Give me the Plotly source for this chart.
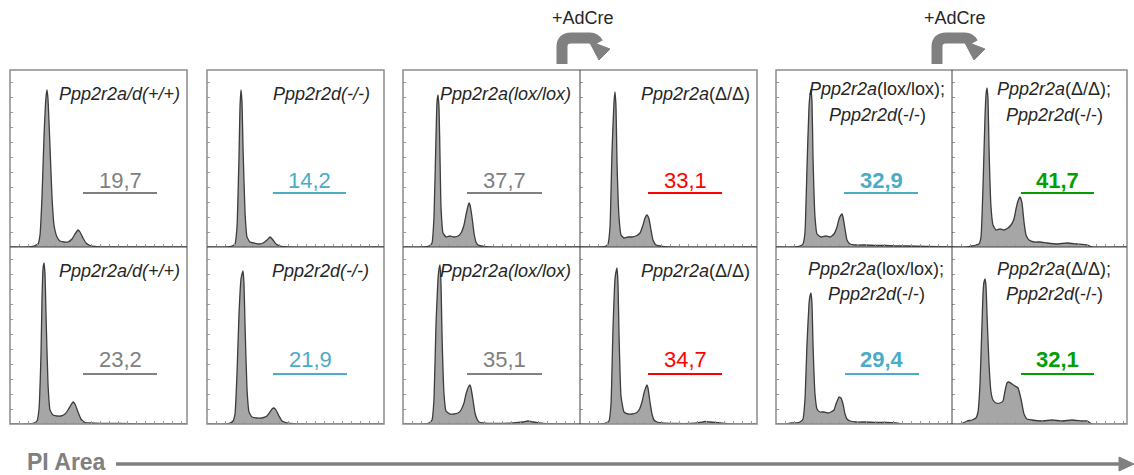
import plotly.graph_objects as go

W, H = 1134, 475

# ---------------- data ----------------
labels = [
    "<i>Ppp2r2a/d(+/+)</i>", "<i>Ppp2r2d(-/-)</i>", "<i>Ppp2r2a(lox/lox)</i>", "<i>Ppp2r2a</i>(Δ/Δ)",
    ["<i>Ppp2r2a</i>(lox/lox);", "<i>Ppp2r2d</i>(-/-)"], ["<i>Ppp2r2a</i>(Δ/Δ);", "<i>Ppp2r2d</i>(-/-)"],
    "<i>Ppp2r2a/d(+/+)</i>", "<i>Ppp2r2d(-/-)</i>", "<i>Ppp2r2a(lox/lox)</i>", "<i>Ppp2r2a</i>(Δ/Δ)",
    ["<i>Ppp2r2a</i>(lox/lox);", "<i>Ppp2r2d</i>(-/-)"], ["<i>Ppp2r2a</i>(Δ/Δ);", "<i>Ppp2r2d</i>(-/-)"],
]
values = ["19,7", "14,2", "37,7", "33,1", "32,9", "41,7",
          "23,2", "21,9", "35,1", "34,7", "29,4", "32,1"]
value_colors = ["#808080", "#4bacc6", "#808080", "#ff0000", "#4bacc6", "#00a000",
                "#808080", "#4bacc6", "#808080", "#ff0000", "#4bacc6", "#00a000"]
value_bold = [False, False, False, False, True, True,
              False, False, False, False, True, True]

# histogram curves: channel (px from panel left) and count (px above baseline)
curve_x = [
    [0, 18, 24, 28, 30, 32, 34, 36, 37, 38, 40, 42, 44, 47, 50, 54, 58, 62, 65, 68, 70, 73, 76, 80, 85, 95, 177],
    [0, 20, 25, 28, 30, 32, 33, 34, 35, 36, 38, 40, 43, 47, 52, 56, 60, 63, 66, 69, 73, 80, 177],
    [0, 20, 26, 29, 31, 33, 34, 35, 36, 37, 38, 40, 43, 47, 51, 55, 58, 61, 63, 65, 66, 67, 69, 71, 73, 75, 78, 85, 177],
    [0, 20, 26, 28, 30, 32, 34, 35, 36, 37, 39, 41, 44, 48, 52, 56, 60, 63, 65, 67, 69, 71, 73, 76, 80, 88, 177],
    [0, 18, 24, 27, 29, 31, 33, 34, 35, 36, 37, 39, 41, 45, 50, 54, 58, 61, 63, 65, 66, 67, 69, 71, 74, 80, 90, 100, 110, 120, 130, 150, 176],
    [0, 15, 20, 24, 27, 29, 31, 33, 34, 35, 36, 37, 39, 41, 44, 48, 52, 56, 59, 62, 64, 66, 68, 70, 72, 74, 77, 82, 88, 95, 105, 115, 125, 135, 140, 175],
    [0, 18, 24, 27, 29, 31, 32, 33, 34, 35, 36, 38, 40, 43, 47, 51, 55, 58, 61, 63, 65, 68, 71, 75, 80, 90, 110, 130, 177],
    [0, 18, 23, 26, 28, 30, 32, 34, 35, 36, 37, 38, 40, 42, 45, 50, 55, 60, 63, 65, 67, 69, 72, 75, 80, 90, 177],
    [0, 20, 26, 29, 31, 33, 35, 36, 37, 38, 39, 41, 43, 47, 51, 55, 58, 61, 63, 65, 67, 68, 70, 72, 74, 76, 80, 90, 110, 120, 125, 130, 140, 177],
    [0, 20, 26, 29, 31, 33, 35, 36, 37, 38, 39, 41, 44, 48, 52, 56, 59, 62, 64, 66, 67, 68, 70, 72, 74, 77, 82, 95, 110, 120, 125, 130, 140, 150, 177],
    [0, 10, 15, 20, 24, 27, 29, 31, 33, 34, 35, 36, 37, 39, 41, 44, 48, 52, 55, 58, 60, 62, 63, 65, 67, 69, 71, 74, 80, 90, 100, 110, 120, 127, 176],
    [0, 8, 11, 15, 20, 24, 26, 28, 30, 31, 32, 33, 34, 35, 37, 39, 41, 44, 48, 51, 53, 55, 57, 60, 63, 66, 69, 72, 75, 80, 90, 100, 110, 120, 130, 135, 140, 175],
]
curve_y = [
    [0, 0, 1, 3, 12, 50, 110, 150, 157, 148, 100, 50, 22, 10, 6, 5, 5, 8, 13, 17, 15, 9, 4, 1.5, 0.5, 0, 0],
    [0, 0, 1, 3, 20, 90, 140, 157, 145, 100, 35, 10, 5, 4, 3, 4, 7, 10, 7, 3, 1, 0, 0],
    [0, 0, 1, 4, 30, 110, 145, 152, 140, 90, 40, 14, 10, 11, 10, 11, 14, 22, 32, 41, 44, 42, 30, 14, 5, 2, 1, 0, 0],
    [0, 0, 1, 3, 20, 95, 145, 155, 140, 85, 30, 12, 9, 10, 10, 11, 14, 22, 29, 32, 28, 17, 7, 2, 1, 0, 0],
    [0, 0, 1, 3, 15, 80, 140, 152, 157, 145, 90, 30, 13, 10, 11, 10, 13, 20, 28, 32, 33, 30, 18, 7, 3, 2, 2, 1.5, 1.5, 1, 1, 0.5, 0],
    [0, 0, 1, 2, 3, 10, 60, 130, 152, 159, 148, 100, 40, 22, 17, 18, 17, 19, 22, 28, 38, 46, 50, 44, 25, 12, 7, 5, 5, 4, 3, 4, 3, 2, 0, 0],
    [0, 0, 1, 3, 15, 70, 125, 155, 161, 150, 110, 40, 14, 9, 8, 8, 10, 14, 19, 22, 20, 12, 5, 1.5, 1, 0.5, 0.5, 0, 0],
    [0, 0, 1, 3, 10, 50, 110, 145, 150, 153, 140, 100, 35, 12, 7, 6, 6, 8, 12, 15, 16, 14, 8, 3, 1, 0, 0],
    [0, 0, 1, 4, 25, 100, 145, 155, 159, 140, 90, 30, 13, 10, 10, 11, 14, 21, 30, 36, 39, 36, 24, 11, 5, 2, 1, 0.5, 1, 2, 3, 2, 0.5, 0],
    [0, 0, 1, 3, 20, 95, 145, 152, 156, 140, 90, 28, 12, 10, 10, 11, 14, 22, 31, 37, 39, 36, 22, 10, 4, 2, 1, 0.5, 0.5, 1.5, 2.5, 2, 1, 0, 0],
    [0, 0, 1, 1, 2, 5, 25, 80, 120, 128, 131, 120, 80, 30, 15, 12, 12, 11, 12, 14, 20, 25, 27, 26, 20, 10, 5, 3, 2, 2, 1.5, 1.5, 1, 0, 0],
    [0, 0, 1, 3, 4, 6, 12, 40, 100, 130, 142, 145, 138, 110, 60, 32, 24, 21, 21, 23, 33, 41, 42, 40, 38, 36, 25, 10, 5, 4, 3, 4, 3, 4, 3, 3, 0, 0],
]

# ---------------- layout geometry (pixels) ----------------
col_left = [10, 207, 403, 580, 776, 952]
col_right = [187, 384, 580, 757, 952, 1127]
row_top = [70, 247]
row_bot = [247, 424]
boxes = [(10, 187), (207, 384), (403, 757), (776, 1127)]
dividers = [580, 952]

# per-panel text placement (local px)
label_right = [172, 165, 170, 172, None, None, 172, 164, 170, 172, None, None]
label_center = [None, None, None, None, 101, 102, None, None, None, None, 100, 102]
num_line = [(73, 147), (66, 139), (64, 139), (68, 142), (68, 142), (69, 142),
            (73, 147), (66, 140), (64, 139), (68, 142), (69, 143), (69, 142)]

FONT = "Liberation Sans, Arial, sans-serif"


def px(x, y):
    return x / W, 1 - y / H


fig = go.Figure()
annotations = []
shapes = []

for i in range(12):
    r, c = divmod(i, 6)
    n = i + 1
    sfx = "" if n == 1 else str(n)
    x0, x1 = col_left[c], col_right[c]
    y0, y1 = row_top[r], row_bot[r]
    pw, ph = x1 - x0, y1 - y0
    axcommon = dict(showgrid=False, zeroline=False, showticklabels=False, showline=False,
                    ticks="inside", ticklen=3, tickwidth=1, tickcolor="#9a9a9a", fixedrange=True)
    fig.update_layout(**{
        "xaxis" + sfx: dict(domain=[x0 / W, x1 / W], range=[0, pw], anchor="y" + sfx, dtick=9, **axcommon),
        "yaxis" + sfx: dict(domain=[1 - y1 / H, 1 - y0 / H], range=[0, ph], anchor="x" + sfx, dtick=15, **axcommon),
    })
    fig.add_trace(go.Scatter(
        x=curve_x[i], y=curve_y[i], xaxis="x" + sfx, yaxis="y" + sfx,
        mode="lines", fill="tozeroy", fillcolor="#a6a6a6",
        line=dict(color="#3c3c3c", width=1.3, shape="spline", smoothing=0.4),
        hoverinfo="skip", showlegend=False))

    # labels
    lab = labels[i]
    if isinstance(lab, list):
        offs = [19, 45] if r == 0 else [22, 47]
        for line, off in zip(lab, offs):
            annotations.append(dict(x=label_center[i], y=ph - off, xref="x" + sfx, yref="y" + sfx,
                                    text=line, showarrow=False, xanchor="center", yanchor="middle",
                                    font=dict(family=FONT, size=18, color="#262626")))
    else:
        annotations.append(dict(x=label_right[i], y=ph - 24, xref="x" + sfx, yref="y" + sfx,
                                text=lab, showarrow=False, xanchor="right", yanchor="middle",
                                font=dict(family=FONT, size=18, color="#262626")))
    # number + underline
    la, lb = num_line[i]
    txt = values[i]
    if value_bold[i]:
        txt = "<b>" + txt + "</b>"
    annotations.append(dict(x=(la + lb) / 2, y=67 if r == 0 else 65, xref="x" + sfx, yref="y" + sfx,
                            text=txt, showarrow=False, xanchor="center", yanchor="middle",
                            font=dict(family=FONT, size=22, color=value_colors[i])))
    shapes.append(dict(type="line", xref="x" + sfx, yref="y" + sfx,
                       x0=la, x1=lb, y0=54 if r == 0 else 50, y1=54 if r == 0 else 50,
                       line=dict(color=value_colors[i], width=2)))

# box frames
for bx0, bx1 in boxes:
    a = px(bx0, row_top[0]); b = px(bx1, row_bot[1])
    shapes.append(dict(type="rect", xref="paper", yref="paper", x0=a[0], y0=b[1], x1=b[0], y1=a[1],
                       line=dict(color="#8c8c8c", width=1.5)))
    m0 = px(bx0, 247); m1 = px(bx1, 247)
    shapes.append(dict(type="line", xref="paper", yref="paper", x0=m0[0], y0=m0[1], x1=m1[0], y1=m1[1],
                       line=dict(color="#404040", width=1)))
for d in dividers:
    a = px(d, row_top[0]); b = px(d, row_bot[1])
    shapes.append(dict(type="line", xref="paper", yref="paper", x0=a[0], y0=a[1], x1=b[0], y1=b[1],
                       line=dict(color="#404040", width=1)))


def path(pts, close=False):
    s = ""
    for k, (cmd, coords) in enumerate(pts):
        s += cmd + " " + " ".join("%.5f,%.5f" % px(x, y) for x, y in coords) + " "
    if close:
        s += "Z"
    return s


# bent "+AdCre" arrows
for d, dx in zip(dividers, [-18, -15]):
    vx = d + dx
    shapes.append(dict(type="path", xref="paper", yref="paper",
                       path=path([("M", [(vx, 64)]), ("L", [(vx, 47)]), ("Q", [(vx, 38), (vx + 9, 38)]),
                                  ("L", [(vx + 28, 38)]), ("Q", [(vx + 33, 38), (vx + 36, 43)])]),
                       line=dict(color="#808080", width=11)))
    shapes.append(dict(type="path", xref="paper", yref="paper",
                       path=path([("M", [(vx + 27, 41)]), ("L", [(vx + 48, 49)]), ("L", [(vx + 37, 60)])], close=True),
                       fillcolor="#808080", line=dict(color="#808080", width=1)))
    annotations.append(dict(x=(d + 3) / W, y=1 - 18 / H, xref="paper", yref="paper", text="+AdCre",
                            showarrow=False, xanchor="center", yanchor="middle",
                            font=dict(family=FONT, size=18, color="#262626")))

# PI Area axis arrow
annotations.append(dict(x=25 / W, y=1 - 462 / H, xref="paper", yref="paper", text="<b>PI Area</b>",
                        showarrow=False, xanchor="left", yanchor="middle",
                        font=dict(family=FONT, size=23, color="#808080")))
a = px(116, 464); b = px(1122, 464)
shapes.append(dict(type="line", xref="paper", yref="paper", x0=a[0], y0=a[1], x1=b[0], y1=b[1],
                   line=dict(color="#808080", width=3.5)))
shapes.append(dict(type="path", xref="paper", yref="paper",
                   path=path([("M", [(1119, 457)]), ("L", [(1134, 464)]), ("L", [(1119, 471)])], close=True),
                   fillcolor="#808080", line=dict(color="#808080", width=1)))

fig.update_layout(width=W, height=H, margin=dict(l=0, r=0, t=0, b=0),
                  paper_bgcolor="white", plot_bgcolor="white",
                  annotations=annotations, shapes=shapes, showlegend=False)

fig.write_html("out.html")
